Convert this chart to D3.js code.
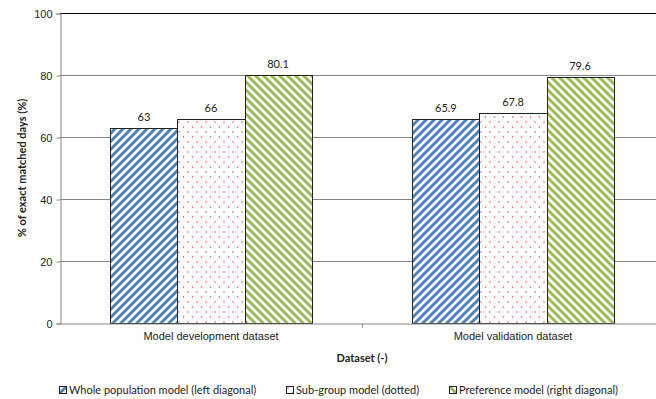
<!DOCTYPE html>
<html><head><meta charset="utf-8">
<script src="https://cdn.jsdelivr.net/npm/d3@7"></script>
<style>body{margin:0;background:#fff;overflow:hidden}svg{display:block;font-family:Lato,"Open Sans",sans-serif}</style>
</head><body><svg id="c" width="656" height="399"></svg>
<script>
const categories = ["Model development dataset", "Model validation dataset"];
const seriesNames = ["Whole population model (left diagonal)", "Sub-group model (dotted)", "Preference model (right diagonal)"];
const wholePopulation = [63, 65.9];
const subGroup = [66, 67.8];
const preference = [80.1, 79.6];
const yTicks = [0, 20, 40, 60, 80, 100];
const seriesValues = [wholePopulation, subGroup, preference];

const svg = d3.select("#c");
const defs = svg.append("defs");
// left diagonal (blue)
const p1 = defs.append("pattern").attr("id","pBlue").attr("patternUnits","userSpaceOnUse").attr("width",8).attr("height",8);
p1.append("rect").attr("width",8).attr("height",8).attr("fill","#fff");
p1.append("path").attr("d","M-2,2 L2,-2 M0,8 L8,0 M6,10 L10,6").attr("stroke","#4f81bd").attr("stroke-width",3);
// dotted (red)
const p2 = defs.append("pattern").attr("id","pDot").attr("patternUnits","userSpaceOnUse").attr("width",9).attr("height",10);
p2.append("rect").attr("width",9).attr("height",10).attr("fill","#fff");
p2.append("circle").attr("cx",2).attr("cy",2).attr("r",0.75).attr("fill","#f03c3c");
p2.append("circle").attr("cx",6.5).attr("cy",7).attr("r",0.75).attr("fill","#f03c3c");
// right diagonal (green)
const p3 = defs.append("pattern").attr("id","pGreen").attr("patternUnits","userSpaceOnUse").attr("width",8).attr("height",8);
p3.append("rect").attr("width",8).attr("height",8).attr("fill","#fff");
p3.append("path").attr("d","M-2,6 L2,10 M0,0 L8,8 M6,-2 L10,2").attr("stroke","#9bbb59").attr("stroke-width",3);
const fills = ["url(#pBlue)","url(#pDot)","url(#pGreen)"];

const x0 = d3.scaleBand().domain(categories).range([60, 664]).paddingInner(0).paddingOuter(0);
const x1 = d3.scaleBand().domain(d3.range(3)).range([0, x0.bandwidth()]).paddingInner(0).paddingOuter(0.75);
const y = d3.scaleLinear().domain([0, 100]).range([323.5, 13.5]);

// gridlines
svg.append("g").selectAll("line").data(yTicks.filter(d=>d>0)).join("line")
  .attr("x1",60).attr("x2",664).attr("y1",d=>y(d)).attr("y2",d=>y(d))
  .attr("stroke",d=>d===100?"#000":"#868686").attr("stroke-width",1);

// y axis
const yAxis = svg.append("g").attr("transform","translate(60.5,0)")
  .call(d3.axisLeft(y).tickValues(yTicks).tickSize(4).tickPadding(4).tickFormat(d3.format("d")));
yAxis.select(".domain").attr("stroke","#868686");
yAxis.selectAll(".tick line").attr("stroke","#868686");
yAxis.selectAll("text").attr("font-size",11).attr("fill","#222");

// bars
const groups = svg.append("g").selectAll("g").data(categories).join("g")
  .attr("transform",c=>`translate(${x0(c)},0)`);
const barData = (c,ci)=>seriesValues.map((s,si)=>({si, v:s[ci]}));
groups.selectAll("rect").data(barData).join("rect")
  .attr("x",d=>Math.round(x1(d.si))+0.5).attr("width",d=>Math.round(x1(d.si)+x1.bandwidth())-Math.round(x1(d.si)))
  .attr("y",d=>Math.round(y(d.v))+0.5).attr("height",d=>y(0)-Math.round(y(d.v))-0.5)
  .attr("fill",d=>fills[d.si]).attr("stroke","#222").attr("stroke-width",1);
groups.selectAll("text").data(barData).join("text")
  .attr("x",d=>x1(d.si)+x1.bandwidth()/2).attr("y",d=>y(d.v)-7)
  .attr("text-anchor","middle").attr("font-size",11).attr("fill","#222").text(d=>d.v);

// x axis
const xAxis = svg.append("g").attr("transform","translate(0,323.5)")
  .call(d3.axisBottom(x0).tickSize(0).tickPadding(9));
xAxis.select(".domain").attr("stroke","#868686");
xAxis.selectAll("text").attr("font-size",11).attr("fill","#222");
// boundary tick between categories
svg.append("line").attr("x1",x0(categories[1])+0.5).attr("x2",x0(categories[1])+0.5)
  .attr("y1",323.5).attr("y2",327.5).attr("stroke","#868686");

// axis titles
svg.append("text").attr("x",362).attr("y",362).attr("text-anchor","middle")
  .attr("font-size",11).attr("font-weight","bold").attr("fill","#222").text("Dataset (-)");
svg.append("text").attr("transform","translate(26,168) rotate(-90)").attr("text-anchor","middle")
  .attr("font-size",11).attr("font-weight","bold").attr("fill","#222").text("% of exact matched days (%)");

// legend
const legX = [59, 286, 449];
const leg = svg.append("g").selectAll("g").data(seriesNames).join("g")
  .attr("transform",(d,i)=>`translate(${legX[i]},386)`);
leg.append("rect").attr("x",0.5).attr("y",0.5).attr("width",7).attr("height",7)
  .attr("fill",(d,i)=>fills[i]).attr("stroke","#222");
leg.append("text").attr("x",10).attr("y",8).attr("font-size",11).attr("fill","#222").text(d=>d);
</script></body></html>
